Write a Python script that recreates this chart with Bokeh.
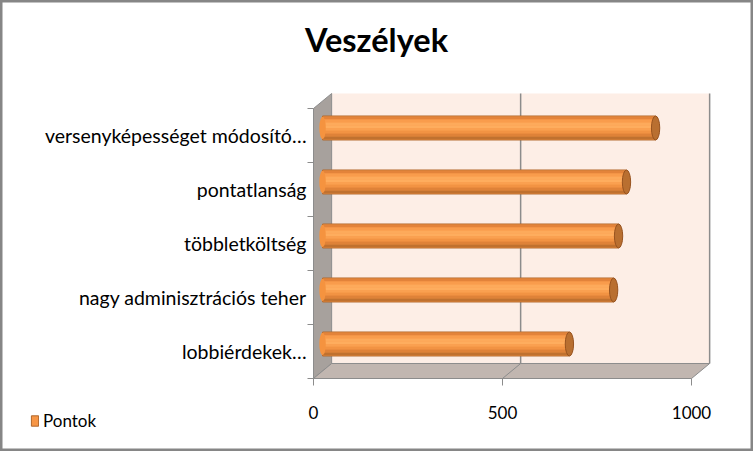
from bokeh.plotting import figure
from bokeh.models import Range1d, Legend, LegendItem, Label, ColumnDataSource
from bokeh.core.properties import value
from bokeh.embed import file_html
from bokeh.resources import INLINE

# ---- data ----
categories = ["lobbiérdekek…", "nagy adminisztrációs teher", "többletköltség",
              "pontatlanság", "versenyképességet módosító…"]
values = [653, 770, 783, 804, 881]
x_ticks = [0, 500, 1000]
x_tick_labels = ["0", "500", "1000"]
series_name = "Pontok"
title_text = "Veszélyek"

# ---- layout constants ----
W, H = 753, 451
OX, OY = 313, 378          # page position of the value-0 / category-0 corner
PX = 0.378                 # pixels per value unit
PY = 54.0                  # pixels per category
XMAX = 1000
DX = 48.0                  # depth offset (value units)
DY = 0.278                 # depth offset (category units)
BH = 0.444                 # cylinder thickness (category units)
n = len(categories)
FONT = "Lato"
EDGE = "#8C8C8C"

p = figure(width=W, height=H,
           x_range=Range1d(-OX / PX, (W - OX) / PX),
           y_range=Range1d(-(H - OY) / PY, OY / PY),
           output_backend="svg", toolbar_location=None,
           x_axis_location=None, y_axis_location=None, title_location=None,
           min_border=0)
p.outline_line_color = "#868686"
p.outline_line_width = 4
p.xgrid.visible = False
p.ygrid.visible = False
p.background_fill_color = "white"
p.border_fill_color = "white"

# walls
p.patch([DX, XMAX + DX, XMAX + DX, DX], [DY, DY, n + DY, n + DY],
        fill_color="#FDEEE6", line_color=None)
p.patch([0, DX, DX, 0], [0, DY, n + DY, n],
        fill_color="#A7A19D", line_color=EDGE, line_width=1)
p.patch([0, XMAX, XMAX + DX, DX], [0, 0, DY, DY],
        fill_color="#C1B6B0", line_color=EDGE, line_width=1)
p.segment(x0=[XMAX + DX], y0=[DY], x1=[XMAX + DX], y1=[n + DY],
          line_color=EDGE, line_width=1.5)
mids = [t for t in x_ticks if 0 < t < XMAX]
p.segment(x0=[t + DX for t in mids], y0=[DY] * len(mids),
          x1=[t + DX for t in mids], y1=[n + DY] * len(mids),
          line_color=EDGE, line_width=1.5)
p.segment(x0=mids, y0=[0] * len(mids), x1=[t + DX for t in mids], y1=[DY] * len(mids),
          line_color=EDGE, line_width=1)

# axis ticks and labels
p.segment(x0=x_ticks, y0=[0] * len(x_ticks), x1=x_ticks,
          y1=[-7 / PY] * len(x_ticks), line_color=EDGE, line_width=1)
p.text(x=x_ticks, y=[-34 / PY] * len(x_ticks), text=x_tick_labels,
       text_align="center", text_baseline="middle", text_color="black",
       text_font=value(FONT), text_font_size="17px")
bounds = list(range(n + 1))
p.segment(x0=[-6 / PX] * len(bounds), y0=bounds, x1=[0] * len(bounds), y1=bounds,
          line_color=EDGE, line_width=1)
p.text(x=[-7 / PX] * n, y=[i + 0.5 for i in range(n)], text=categories,
       text_align="right", text_baseline="middle", text_color="black",
       text_font=value(FONT), text_font_size="19.5px")

# cylinders
cy = [i + 0.5 + DY / 2 for i in range(n)]
x0 = DX / 2
x1 = [x0 + v for v in values]
src = ColumnDataSource(dict(y=cy, right=x1, left=[x0] * n))

body = p.hbar(y="y", left="left", right="right", height=BH, source=src,
              fill_color="#F79646", line_color="#B0662A", line_width=1)
strip_colors = ["#E3833A", "#F99C4C", "#FDAA5B", "#FEAD5E", "#FAA050",
                "#F29343", "#DF8238", "#C0712F"]
ns = len(strip_colors)
sh = (BH - 0.03) / ns
for k, c in enumerate(strip_colors):
    off = (BH - 0.03) / 2 - sh * (k + 0.5)
    p.hbar(y=[c_ + off for c_ in cy], left=[x0] * n, right=x1, height=sh,
           fill_color=c, line_color=None)
p.ellipse(x=[x0] * n, y=cy, width=17, height=BH * 0.94,
          fill_color="#F5933F", line_color=None)
p.ellipse(x=x1, y=cy, width=22, height=BH,
          fill_color="#B96F30", line_color="#98531F", line_width=1)

# legend
legend = Legend(items=[LegendItem(label=series_name, renderers=[body])],
                location=(30, 20), glyph_width=9, glyph_height=13,
                label_height=14, label_standoff=4, padding=0, margin=0,
                spacing=0, border_line_color=None, background_fill_alpha=0,
                label_text_font=FONT, label_text_font_size="17px",
                label_text_color="black")
p.add_layout(legend)

# title
p.add_layout(Label(x=376, y=H - 39, x_units="screen", y_units="screen",
                   text=title_text, text_align="center", text_baseline="middle",
                   text_font=FONT, text_font_style="bold", text_font_size="32.5px",
                   text_color="black"))

open("out.html", "w").write(file_html(p, INLINE))
